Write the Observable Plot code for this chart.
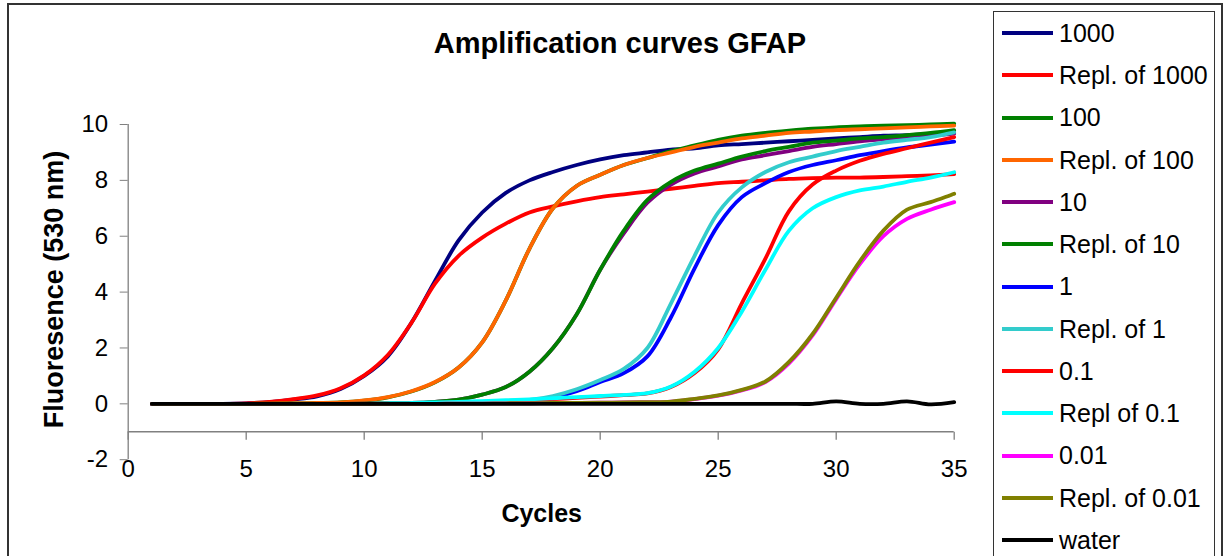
<!DOCTYPE html>
<html>
<head>
<meta charset="utf-8">
<script src="https://cdn.jsdelivr.net/npm/d3@7"></script>
<script src="https://cdn.jsdelivr.net/npm/@observablehq/plot@0.6"></script>
<style>
  body { margin: 0; background: #fff; }
  #chart { position: relative; width: 1225px; height: 556px; overflow: hidden; background: #fff;
           font-family: "Liberation Sans", Arial, sans-serif; color: #000; }
  #chart .abs { position: absolute; white-space: nowrap; }
  #frame { left: 7px; top: 3px; width: 1216px; height: 620px; border: 2px solid #333; box-sizing: border-box; }
  #legend { left: 993px; top: 11px; width: 222px; height: 620px; border: 1px solid #333; box-sizing: border-box; }
  #plot { left: 0; top: 0; }
  .title { font-weight: bold; font-size: 29px; line-height: 29px; text-align: center; }
  .xlabel { font-weight: bold; font-size: 25px; line-height: 25px; text-align: center; }
  .ylabel { font-weight: bold; font-size: 27px; line-height: 27px; text-align: center; transform: rotate(-90deg); }
  .swatch { height: 4px; width: 51px; }
  .entry { font-size: 25px; line-height: 25px; }
</style>
</head>
<body>
<div id="chart">
  <div id="frame" class="abs"></div>
  <div id="plot" class="abs"></div>
  <div id="legend" class="abs"></div>
</div>
<script>
// Cycle numbers on the x axis
const cycles = [1, 2, 3, 4, 5, 6, 7, 8, 9, 10, 11, 12, 13, 14, 15, 16, 17, 18, 19, 20,
                21, 22, 23, 24, 25, 26, 27, 28, 29, 30, 31, 32, 33, 34, 35];

// Fluorescence readings per dilution (530 nm)
const f1000 = [0, 0, 0, 0, 0.02, 0.06, 0.15, 0.27, 0.53, 1.0, 1.7, 2.9, 4.4, 5.85, 6.85, 7.55, 8.0, 8.3, 8.55, 8.75,
               8.9, 9.0, 9.1, 9.15, 9.25, 9.3, 9.35, 9.4, 9.45, 9.5, 9.55, 9.6, 9.62, 9.66, 9.7];
const f1000r = [0, 0, 0, 0, 0.02, 0.07, 0.17, 0.3, 0.56, 1.02, 1.75, 2.9, 4.3, 5.3, 5.95, 6.45, 6.85, 7.07, 7.25, 7.4,
                7.5, 7.6, 7.7, 7.8, 7.9, 7.95, 8.0, 8.05, 8.08, 8.1, 8.1, 8.12, 8.15, 8.18, 8.22];
const f100 = [0, 0, 0, 0, 0, 0.01, 0.02, 0.03, 0.05, 0.11, 0.23, 0.44, 0.77, 1.3, 2.2, 3.7, 5.55, 7.0, 7.8, 8.2,
              8.55, 8.8, 9.05, 9.25, 9.45, 9.6, 9.7, 9.78, 9.85, 9.9, 9.93, 9.96, 9.98, 10.0, 10.03];
const f100r = [0, 0, 0, 0, 0, 0.01, 0.02, 0.03, 0.05, 0.12, 0.24, 0.45, 0.78, 1.3, 2.2, 3.7, 5.55, 7.0, 7.8, 8.2,
               8.55, 8.8, 9.0, 9.2, 9.35, 9.5, 9.6, 9.7, 9.75, 9.8, 9.83, 9.86, 9.9, 9.93, 9.96];
const f10 = [0, 0, 0, 0, 0, 0, 0, 0, 0, 0.01, 0.02, 0.03, 0.07, 0.15, 0.33, 0.6, 1.15, 2.0, 3.2, 4.8,
             6.1, 7.2, 7.85, 8.25, 8.5, 8.75, 8.9, 9.05, 9.2, 9.3, 9.4, 9.48, 9.55, 9.6, 9.67];
const f10r = [0, 0, 0, 0, 0, 0, 0, 0, 0, 0.01, 0.02, 0.03, 0.07, 0.15, 0.33, 0.6, 1.15, 2.0, 3.2, 4.8,
              6.2, 7.3, 7.95, 8.35, 8.6, 8.85, 9.05, 9.2, 9.35, 9.42, 9.5, 9.55, 9.62, 9.7, 9.8];
const f1 = [0, 0, 0, 0, 0, 0, 0, 0, 0, 0, 0, 0.01, 0.02, 0.03, 0.05, 0.07, 0.1, 0.22, 0.45, 0.78,
            1.1, 1.7, 3.1, 4.85, 6.4, 7.4, 7.9, 8.3, 8.55, 8.72, 8.9, 9.05, 9.18, 9.28, 9.39];
const f1r = [0, 0, 0, 0, 0, 0, 0, 0, 0, 0, 0.01, 0.02, 0.03, 0.04, 0.06, 0.09, 0.14, 0.28, 0.52, 0.85,
             1.25, 2.0, 3.6, 5.3, 6.85, 7.75, 8.3, 8.65, 8.85, 9.05, 9.2, 9.35, 9.45, 9.55, 9.72];
const f01 = [0, 0, 0, 0, 0, 0, 0, 0, 0, 0, 0.01, 0.02, 0.03, 0.05, 0.07, 0.1, 0.13, 0.17, 0.21, 0.26,
             0.31, 0.37, 0.6, 1.1, 1.95, 3.6, 5.2, 6.9, 7.85, 8.35, 8.7, 8.95, 9.15, 9.35, 9.55];
const f01r = [0, 0, 0, 0, 0, 0, 0, 0, 0, 0, 0.02, 0.03, 0.05, 0.07, 0.1, 0.13, 0.16, 0.2, 0.24, 0.28,
              0.32, 0.38, 0.62, 1.15, 2.0, 3.3, 4.8, 6.2, 7.0, 7.4, 7.64, 7.78, 7.95, 8.1, 8.29];
const f001 = [0, 0, 0, 0, 0, 0, 0, 0, 0, 0, 0, 0, 0, 0.01, 0.01, 0.02, 0.02, 0.03, 0.03, 0.04,
              0.05, 0.06, 0.08, 0.17, 0.29, 0.48, 0.78, 1.45, 2.45, 3.75, 5.0, 6.0, 6.62, 6.95, 7.22];
const f001r = [0, 0, 0, 0, 0, 0, 0, 0, 0, 0, 0, 0, 0, 0.01, 0.01, 0.02, 0.02, 0.03, 0.03, 0.04,
               0.05, 0.06, 0.08, 0.18, 0.3, 0.5, 0.8, 1.5, 2.5, 3.8, 5.1, 6.2, 6.95, 7.22, 7.52];
const fWater = [0, 0, 0, 0, 0, 0, 0, 0, 0, 0, 0, 0, 0, 0, 0, 0, 0, 0, 0, 0,
                0, 0, 0, 0, 0, 0, 0, 0, 0, 0.09, 0, 0, 0.09, -0.02, 0.06];

const seriesNames = ["1000", "Repl. of 1000", "100", "Repl. of 100", "10", "Repl. of 10", "1", "Repl. of 1",
                     "0.1", "Repl of 0.1", "0.01", "Repl. of 0.01", "water"];
const seriesValues = [f1000, f1000r, f100, f100r, f10, f10r, f1, f1r, f01, f01r, f001, f001r, fWater];
const seriesColors = ["#000080", "#ff0000", "#008000", "#ff6600", "#800080", "#008000", "#0000ff", "#33cccc",
                      "#ff0000", "#00ffff", "#ff00ff", "#808000", "#000000"];

const xTicks = [0, 5, 10, 15, 20, 25, 30, 35];
const yTicks = [-2, 0, 2, 4, 6, 8, 10];

const titleText = "Amplification curves GFAP";
const xLabelText = "Cycles";
const yLabelText = "Fluoresence (530 nm)";

const axisGray = "#808080";
const font = "'Liberation Sans', Arial, sans-serif";

// One row per reading, grouped by series
const rows = seriesNames.flatMap((name, i) =>
  cycles.map((c, j) => ({series: name, cycle: c, value: seriesValues[i][j]})));

// Downward tick: a short vertical stroke hanging from the axis line
const downTick = {draw(context) { context.moveTo(0, 0); context.lineTo(0, 8); }};

const chart = Plot.plot({
  width: 990,
  height: 556,
  marginLeft: 127.7,
  marginRight: 36.3,
  marginTop: 124,
  marginBottom: 96.8,
  style: {background: "transparent", fontFamily: font, fontSize: "24px", overflow: "visible"},
  x: {domain: [0, 35], axis: null},
  y: {domain: [-2, 10], axis: null},
  marks: [
    // value axis (left)
    Plot.ruleX([0], {y1: -2, y2: 10, stroke: axisGray, strokeWidth: 1.3}),
    Plot.axisY(yTicks, {anchor: "left", label: null, tickSize: 8, tickPadding: 12, stroke: axisGray, fill: "black",
                        fontSize: 24, tickFormat: (d) => String(d)}),
    // category axis, crossing at -1
    Plot.ruleY([-1], {x1: 0, x2: 35, stroke: axisGray, strokeWidth: 1.3}),
    Plot.dot(xTicks, {x: (d) => d, y: -1, symbol: downTick, stroke: axisGray, fill: "none", strokeWidth: 1.3}),
    Plot.text(xTicks, {x: (d) => d, y: -2, text: (d) => String(d), lineAnchor: "top", fontSize: 24, fill: "black"}),
    // amplification curves, first series underneath
    ...seriesNames.map((name, i) =>
      Plot.line(rows.filter((r) => r.series === name), {
        x: "cycle", y: "value", stroke: seriesColors[i], strokeWidth: 3.8, curve: "catmull-rom"
      }))
  ]
});
document.getElementById("plot").appendChild(chart);

const root = document.getElementById("chart");
function addText(cls, text, css) {
  const el = document.createElement("div");
  el.className = "abs " + cls;
  el.textContent = text;
  Object.assign(el.style, css);
  root.appendChild(el);
  return el;
}
addText("title", titleText, {left: "0px", width: "1240px", top: "28.5px"});
addText("xlabel", xLabelText, {left: "341.7px", width: "400px", top: "500.5px"});
addText("ylabel", yLabelText, {left: (54 - 200) + "px", width: "400px", top: (289 - 13.5) + "px"});

// Legend: one swatch and label per series
seriesNames.forEach((name, i) => {
  const y = 33 + 42.25 * i;
  const sw = document.createElement("div");
  sw.className = "abs swatch";
  Object.assign(sw.style, {left: "1002px", top: (y - 2) + "px", background: seriesColors[i]});
  root.appendChild(sw);
  addText("entry", name, {left: "1059px", top: (y - 12.2) + "px"});
});
</script>
</body>
</html>
